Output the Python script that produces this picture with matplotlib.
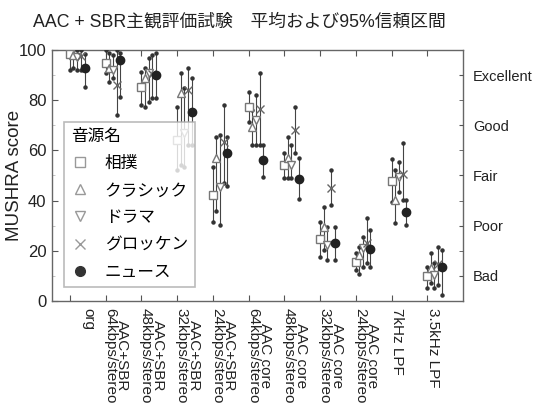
import matplotlib
matplotlib.use("Agg")
import matplotlib.pyplot as plt
import numpy as np

plt.rcParams['font.family'] = ['Liberation Sans', 'Noto Sans CJK JP', 'DejaVu Sans']

categories = ["org",
              "AAC+SBR\n64kbps/stereo", "AAC+SBR\n48kbps/stereo",
              "AAC+SBR\n32kbps/stereo", "AAC+SBR\n24kbps/stereo",
              "AAC core\n64kbps/stereo", "AAC core\n48kbps/stereo",
              "AAC core\n32kbps/stereo", "AAC core\n24kbps/stereo",
              "7kHz LPF", "3.5kHz LPF"]

series_names = ["相撲", "クラシック", "ドラマ", "グロッケン", "ニュース"]

sumo_mean = [98.5, 94.7, 85.4, 64.0, 42.2, 77.4, 54.2, 24.7, 15.7, 48.0, 10.0]
sumo_lo = [92, 90.7, 78, 52, 31.6, 71.4, 49, 17.7, 12.4, 39.6, 5.2]
sumo_hi = [100, 100, 91.4, 77.4, 53.5, 83.4, 59, 31.6, 19, 56.4, 13.7]

classic_mean = [98, 92.7, 89, 82.7, 57, 69.4, 57, 29.6, 18.3, 40.2, 13]
classic_lo = [93, 87.4, 77.4, 54, 36, 62, 49, 20.3, 10.8, 31.2, 7]
classic_hi = [100, 98.7, 92.8, 91, 65.5, 76, 65.5, 37.6, 21.6, 52, 19]

drama_mean = [97.3, 92, 90.7, 67, 45.5, 72, 54, 22.3, 21, 49.5, 10.4]
drama_lo = [92, 88.8, 79.4, 53.5, 30.3, 62, 49, 16.3, 13.7, 43.5, 5.2]
drama_hi = [100, 98, 96.7, 85, 66, 82, 62, 29.6, 25.6, 55.5, 15]

glocken_mean = [97.5, 86, 90.5, 84, 63.5, 76.5, 68, 45, 23.1, 50.5, 14.7]
glocken_lo = [92, 74, 81, 62, 47, 62, 59, 38.2, 15, 40.2, 6.4]
glocken_hi = [100, 100, 98, 93, 78, 90.7, 77.4, 52.2, 33, 63, 21.6]

news_mean = [93, 96, 90, 75.4, 59, 56.2, 48.6, 23.1, 20.6, 35.6, 13.4]
news_lo = [85.4, 81.4, 81, 62, 46, 49.5, 40.6, 16.3, 13.7, 30.3, 2.4]
news_hi = [98.5, 98.7, 98.7, 89, 65.5, 62, 57, 29.6, 28.3, 40.2, 20.3]

quality_labels = ["Bad", "Poor", "Fair", "Good", "Excellent"]

means = [sumo_mean, classic_mean, drama_mean, glocken_mean, news_mean]
los = [sumo_lo, classic_lo, drama_lo, glocken_lo, news_lo]
his = [sumo_hi, classic_hi, drama_hi, glocken_hi, news_hi]

# marker style per series
styles = [
    dict(marker="s", mfc="white", mec="#777777", ms=5.5),
    dict(marker="^", mfc="white", mec="#777777", ms=6),
    dict(marker="v", mfc="white", mec="#777777", ms=6),
    dict(marker="x", mfc="none", mec="#666666", ms=5.5, mew=1.0),
    dict(marker="o", mfc="#222222", mec="#222222", ms=6),
]
offsets = [0.0, 0.1, 0.2, 0.31, 0.41]

fig = plt.figure(figsize=(5.34, 4.08), dpi=100)
ax = fig.add_axes([0.0974, 0.2623, 0.7697, 0.6152])

x = np.arange(len(categories))
for i in range(5):
    xs = x + offsets[i]
    m = np.array(means[i])
    lo = np.array(los[i])
    hi = np.array(his[i])
    ax.vlines(xs, lo, hi, color="#444444", lw=0.8, zorder=2)
    ax.plot(xs, lo, ls="none", marker="o", ms=2.2, color="#333333", zorder=3)
    ax.plot(xs, hi, ls="none", marker="o", ms=2.2, color="#333333", zorder=3)
    ax.plot(xs, m, ls="none", zorder=4, **styles[i])

ax.set_xlim(-0.5, 11.0)
ax.set_ylim(0, 100)
ax.set_yticks(np.arange(0, 101, 20))
ax.set_yticks(np.arange(10, 100, 20), minor=True)
ax.set_xticks(x)
ax.set_xticklabels([])

label_pos = []
for k, c in enumerate(categories):
    if k == 0:
        label_pos.append(k + 0.53)
    elif "\n" in c:
        label_pos.append(k + 0.29)
    else:
        label_pos.append(k + 0.15)
for xp, c in zip(label_pos, categories):
    ax.text(xp, -2.6, c, rotation=-90, ha="center", va="top", fontsize=11,
            linespacing=0.85, color="#222222")

ax.tick_params(axis="both", which="both", direction="in", top=True,
               color="#555555", labelsize=12, labelcolor="#222222")
ax.tick_params(axis="y", which="major", length=4, pad=4)
ax.tick_params(axis="y", which="minor", length=2, color="#bbbbbb")
ax.tick_params(axis="x", length=4)
for s in ax.spines.values():
    s.set_color("#666666")
    s.set_linewidth(1.0)

ax2 = ax.twinx()
ax2.set_ylim(0, 100)
ax2.set_yticks(np.arange(10, 100, 20))
ax2.set_yticklabels(quality_labels)
ax2.set_yticks(np.arange(20, 100, 20), minor=True)
ax2.tick_params(axis="y", which="both", direction="in", length=3,
                color="#555555", labelsize=10.5, labelcolor="#222222", pad=7)
for s in ax2.spines.values():
    s.set_visible(False)

ax.set_ylabel("MUSHRA score", fontsize=13.5, color="#222222")
ax.yaxis.set_label_coords(-0.07, 0.5)

fig.text(33 / 534, 1 - 22 / 408, "AAC + SBR主観評価試験\u3000平均および95%信頼区間",
         ha="left", va="center", fontsize=12.8, color="#222222")

leg_handles = []
for i in range(5):
    st = dict(styles[i])
    if i < 4:
        st["mec"] = "#999999"
        st["ms"] = 7
    else:
        st["mfc"] = "#333333"
        st["mec"] = "#333333"
        st["ms"] = 7
    lh, = ax.plot([], [], ls="none", **st)
    leg_handles.append(lh)

leg = ax.legend(leg_handles, series_names, title="音源名", loc="lower left",
                bbox_to_anchor=(0.029, 0.056), fontsize=12, title_fontsize=12,
                frameon=True, fancybox=False, edgecolor="#aaaaaa",
                handlelength=1.0, handletextpad=1.0, labelspacing=0.72,
                borderpad=0.45, borderaxespad=0)
leg._legend_box.align = "left"
leg.get_frame().set_linewidth(1.2)

fig.savefig("out.png", dpi=100)
